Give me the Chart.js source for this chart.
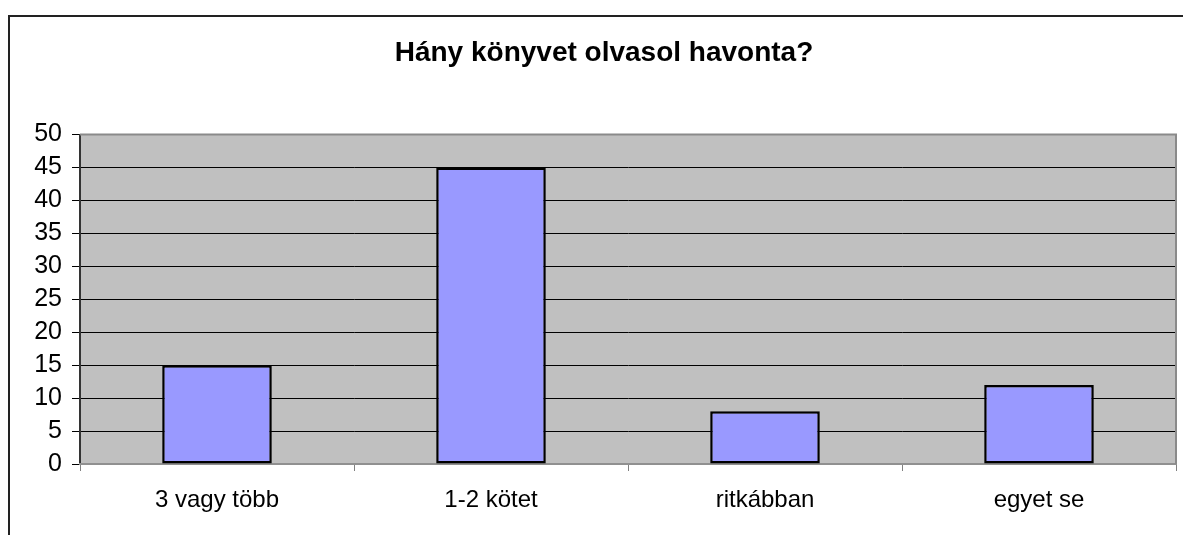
<!DOCTYPE html>
<html>
<head>
<meta charset="utf-8">
<script src="https://cdn.jsdelivr.net/npm/chart.js@4/dist/chart.umd.min.js"></script>
<style>
html,body{margin:0;padding:0;background:#fff;}
#wrap{width:1183px;height:535px;position:relative;}
</style>
</head>
<body>
<div id="wrap"><canvas id="c" width="1183" height="535"></canvas></div>
<script>
const categories = ['3 vagy több', '1-2 kötet', 'ritkábban', 'egyet se'];
const values = [15, 45, 8, 12];
const yTicks = [0, 5, 10, 15, 20, 25, 30, 35, 40, 45, 50];
const chartTitle = 'Hány könyvet olvasol havonta?';

const FONT = "'Liberation Sans', Arial, sans-serif";

const framePlugin = {
  id: 'frame',
  beforeDraw(chart) {
    const ctx = chart.ctx;
    ctx.save();
    ctx.fillStyle = '#fff';
    ctx.fillRect(0, 0, chart.width, chart.height);
    ctx.strokeStyle = '#222';
    ctx.lineWidth = 2;
    ctx.strokeRect(9, 16, 1400, 1000);
    const a = chart.chartArea;
    ctx.fillStyle = '#C0C0C0';
    ctx.fillRect(a.left, a.top, a.right - a.left, a.bottom - a.top);
    ctx.restore();
  },
  beforeDatasetsDraw(chart) {
    const ctx = chart.ctx;
    const a = chart.chartArea;
    ctx.save();
    ctx.strokeStyle = '#8a8a8a';
    ctx.lineWidth = 2;
    ctx.beginPath();
    ctx.moveTo(a.left, a.top);
    ctx.lineTo(a.right, a.top);
    ctx.lineTo(a.right, a.bottom);
    ctx.stroke();
    ctx.restore();
  }
};

new Chart(document.getElementById('c'), {
  type: 'bar',
  data: {
    labels: categories,
    datasets: [{
      data: values,
      backgroundColor: '#9999FF',
      borderColor: '#000',
      borderWidth: 2.5,
      borderSkipped: false,
      categoryPercentage: 0.4,
      barPercentage: 1.0
    }]
  },
  options: {
    responsive: false,
    animation: false,
    devicePixelRatio: 1,
    layout: { padding: { left: 32, right: 7, top: 0, bottom: 0 } },
    plugins: {
      legend: { display: false },
      tooltip: { enabled: false },
      title: {
        display: true,
        text: chartTitle,
        color: '#000',
        font: { family: FONT, size: 28, weight: 'bold' },
        padding: { top: 36, bottom: 65 }
      }
    },
    scales: {
      y: {
        min: 0,
        max: 50,
        afterBuildTicks(scale) { scale.ticks = yTicks.map(v => ({ value: v })); },
        afterFit(scale) { scale.width = 48; },
        ticks: {
          color: '#000',
          font: { family: FONT, size: 25, lineHeight: 1 },
          padding: 10,
          autoSkip: false
        },
        grid: {
          color: '#000',
          lineWidth: 1,
          tickLength: 8,
          tickColor: '#000',
          drawTicks: true
        },
        border: { color: '#333', width: 2 }
      },
      x: {
        afterFit(scale) { scale.height = 71; },
        ticks: {
          color: '#000',
          font: { family: FONT, size: 24 },
          padding: 15
        },
        grid: {
          drawOnChartArea: false,
          tickLength: 7,
          tickColor: '#808080',
          offset: true
        },
        border: { color: '#909090', width: 2 }
      }
    }
  },
  plugins: [framePlugin]
});
</script>
</body>
</html>
